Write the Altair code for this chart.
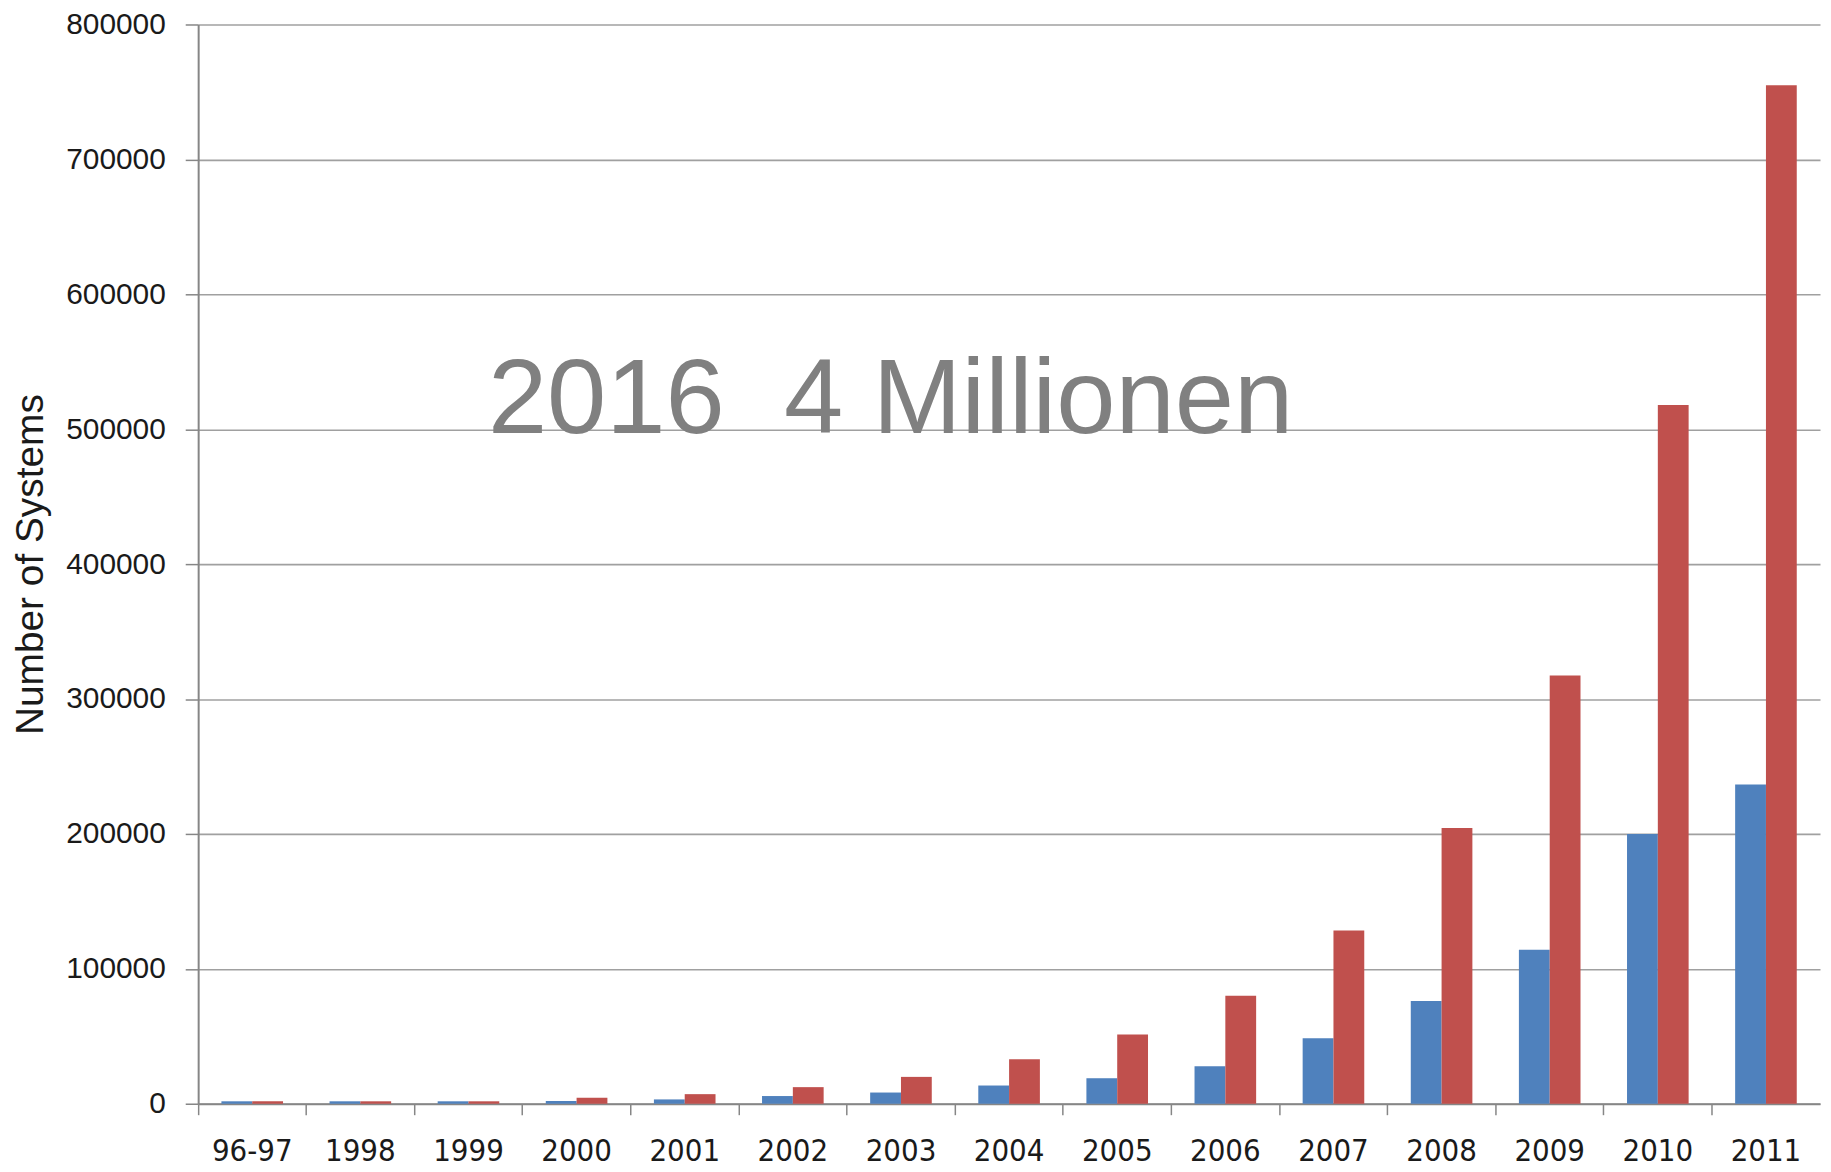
import altair as alt
import pandas as pd

categories = ["96-97", "1998", "1999", "2000", "2001", "2002", "2003", "2004",
              "2005", "2006", "2007", "2008", "2009", "2010", "2011"]
series_names = ["Serie 1", "Serie 2"]
series_1 = [1800, 1800, 1800, 2000, 3200, 5700, 8300, 13500, 18900, 27800,
            48600, 76100, 114200, 200000, 236700]
series_2 = [1800, 1800, 1800, 4400, 7100, 12300, 19900, 32900, 51300, 80100,
            128400, 204300, 317500, 518000, 755000]
y_ticks = [0, 100000, 200000, 300000, 400000, 500000, 600000, 700000, 800000]
annotation_text = ["2016\u00a0 4 Millionen"]
annotation_value = [497000]

rows = []
for c, a, b in zip(categories, series_1, series_2):
    rows.append({"year": c, "series": series_names[0], "value": a})
    rows.append({"year": c, "series": series_names[1], "value": b})
df = pd.DataFrame(rows)
ann_df = pd.DataFrame({"text": annotation_text, "value": annotation_value})

W, H = 1629, 1084

y_scale = alt.Scale(domain=[0, 800000], nice=False, zero=True)

bars = alt.Chart(df).mark_bar().encode(
    x=alt.X("year:N", sort=categories,
            scale=alt.Scale(paddingInner=0, paddingOuter=0),
            axis=alt.Axis(title=None, bandPosition=0,
                          labelAngle=0, labelOverlap=False,
                          labelFont="Liberation Sans Narrow, DejaVu Sans Condensed, Liberation Sans",
                          labelFontSize=31, labelColor="#1a1a1a", labelPadding=22,
                          tickSize=11, tickColor="#868686", tickWidth=1.5,
                          domainColor="#868686", domainWidth=2, grid=False)),
    xOffset=alt.XOffset("series:N", sort=series_names,
                        scale=alt.Scale(paddingInner=0, paddingOuter=0.755)),
    y=alt.Y("value:Q", scale=y_scale,
            axis=alt.Axis(title="Number of Systems", values=y_ticks, format="d",
                          labelFont="Liberation Sans", labelFontSize=30,
                          labelColor="#1a1a1a", labelPadding=20,
                          tickSize=13, tickColor="#868686", tickWidth=1.5,
                          domainColor="#868686", domainWidth=2,
                          grid=True, gridColor="#a0a0a0", gridWidth=1.6,
                          titleFont="Liberation Sans", titleFontSize=39,
                          titleFontWeight="normal", titleColor="#1a1a1a",
                          titlePadding=15)),
    color=alt.Color("series:N", sort=series_names,
                    scale=alt.Scale(domain=series_names, range=["#4F81BD", "#C0504D"]),
                    legend=None),
)

ann = alt.Chart(ann_df).mark_text(
    align="left", baseline="alphabetic", fontSize=107,
    font="Liberation Sans", color="#808080"
).encode(
    x=alt.value(291),
    y=alt.Y("value:Q", scale=y_scale),
    text="text:N",
)

chart = alt.layer(bars, ann).properties(
    width=W, height=H,
    autosize=alt.AutoSizeParams(type="none"),
    padding={"left": 191, "top": 14, "right": 3, "bottom": 64},
    background="white",
).configure_view(stroke=None)

chart.save("out.html", embed_options={"renderer": "svg", "actions": False})
